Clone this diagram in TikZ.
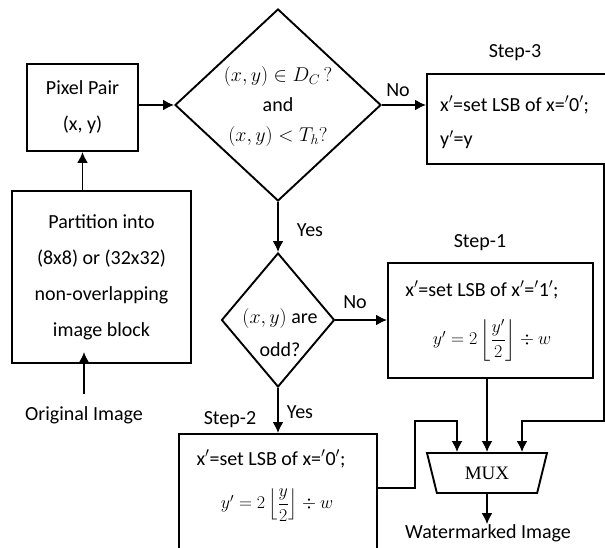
\RequirePackage{fix-cm}
\documentclass[tikz,border=0pt]{standalone}
\usepackage{amsmath}
\usepackage{fontspec}
\setmainfont{Carlito}
\newfontfamily\muxfont{Liberation Serif}
\usetikzlibrary{shapes.geometric,arrows.meta,calc}
\begin{document}
\begin{tikzpicture}[x=1pt,y=-1pt,
  every node/.style={font=\fontsize{20}{36}\selectfont},
  box/.style={draw,line width=1.9pt,rectangle,inner sep=0pt},
  dia/.style={draw,line width=1.9pt,diamond,inner sep=0pt},
  arr/.style={line width=1.9pt,-{Latex[length=11pt,width=11pt]}},
  lbl/.style={inner sep=0pt},
  frm/.style={inner sep=0pt,font=\fontsize{18}{22}\selectfont}]
\useasboundingbox (0,0) rectangle (605,548);
% boxes
\node[box,minimum width=111pt,minimum height=87pt,align=center] (pp) at (82.5,107.5) {Pixel Pair\\(x, y)};
\node[box,minimum width=179pt,minimum height=172pt,align=center] (part) at (101.5,277) {Partition into\\(8x8) or (32x32)\\non-overlapping\\image block};
\node[lbl] (orig) at (84,415) {Original Image};
% diamonds
\node[dia,minimum width=206pt,minimum height=192pt] (d1) at (278,105) {};
\node[lbl,align=center,font=\fontsize{20}{30}\selectfont] (d1t) at (278,107) {$(x, y) \in D_C\,?$\\and\\$(x, y) < T_h?$};
\node[dia,minimum width=113pt,minimum height=134pt] (d2) at (278,320) {};
\node[lbl,align=center,font=\fontsize{20}{33}\selectfont] (d2t) at (280,333) {$(x, y)$ are\\odd?};
% step 3
\node[box,minimum width=180pt,minimum height=90pt] (s3) at (517,119) {};
\node[lbl] (s3l) at (515,53) {Step-3};
\node[lbl,anchor=west] (s3a) at (440,105) {x$'$=set LSB of x=$'$0$'$;};
\node[lbl,anchor=west] (s3b) at (440,140) {y$'$=y};
% step 1
\node[box,minimum width=205pt,minimum height=115pt] (s1) at (490.5,320.5) {};
\node[lbl] (s1l) at (480,243) {Step-1};
\node[lbl] (s1a) at (482,290) {x$'$=set LSB of x$'$=$'$1$'$;};
\node[frm] (s1b) at (492,340) {$y' = 2\left\lfloor\dfrac{y'}{2}\right\rfloor \div w$};
% step 2
\node[box,minimum width=198pt,minimum height=124pt] (s2) at (278,496) {};
\node[lbl] (s2l) at (230,420) {Step-2};
\node[lbl] (s2a) at (271,459) {x$'$=set LSB of x=$'$0$'$;};
\node[frm] (s2b) at (277,505) {$y' = 2\left\lfloor\dfrac{y}{2}\right\rfloor \div w$};
% mux
\node[draw,line width=1.9pt,trapezium,shape border rotate=180,trapezium angle=52,trapezium stretches body,minimum width=120pt,minimum height=40pt,inner sep=0pt,font=\muxfont\fontsize{19}{19}\selectfont] (mux) at (487,473) {MUX};
\node[lbl] (wm) at (488,533) {Watermarked Image};
% labels
\node[lbl] (no1) at (398,90) {No};
\node[lbl] (yes1) at (310,230) {Yes};
\node[lbl] (no2) at (355,302) {No};
\node[lbl] (yes2) at (300,412) {Yes};
% connectors
\draw[arr] ([yshift=12pt]orig.north) -- ([yshift=12pt]orig.north |- part.south);
\draw[arr] (pp.south |- part.north) -- (pp.south);
\draw[arr] (pp.east |- d1.west) -- (d1.west);
\draw[arr] (d1.east) -- (d1.east -| s3.west);
\draw[arr] (d1.south) -- (d2.north);
\draw[arr] (d2.east) -- (d2.east -| s1.west);
\draw[arr] (d2.south) -- (s2.north);
\draw[arr] (mux.north |- s1.south) -- (mux.north);
\coordinate (b1) at (415,421);
\draw[arr] ([yshift=8pt]s2.east) -| (b1) -| ([xshift=-30pt]mux.north);
\coordinate (c3) at ([xshift=-4pt]s3.south east);
\draw[arr] (c3) -- (c3 |- b1) -| ([xshift=35pt]mux.north);
\draw[arr] (mux.south) -- (mux.south |- wm.north);
\end{tikzpicture}
\end{document}
